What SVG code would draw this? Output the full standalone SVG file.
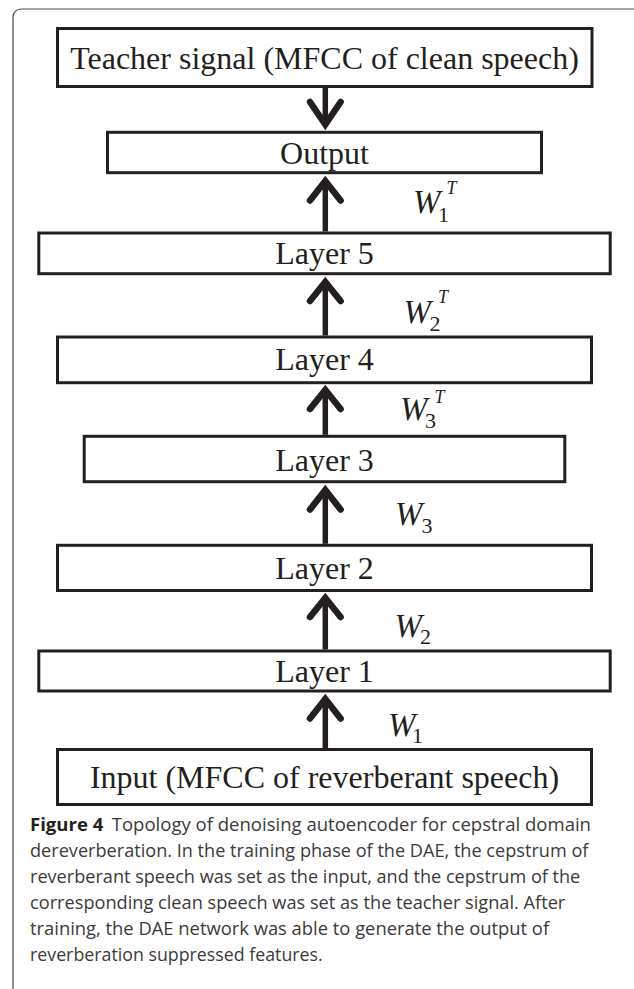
<svg xmlns="http://www.w3.org/2000/svg" width="634" height="989" viewBox="0 0 634 989">
<style>
.box{fill:#fff;stroke:#231f20;stroke-width:3}
.lbl{font-family:"Liberation Serif","Times New Roman",serif;font-size:32px;fill:#231f20;text-anchor:middle}
.w{font-family:"Liberation Serif","Times New Roman",serif;fill:#231f20;font-style:italic;font-size:33px}
.sub{font-style:normal;font-size:22px}
.sup{font-style:italic;font-size:18px}
.shaft{stroke:#231f20;stroke-width:5.5;fill:none}
.head{stroke:#231f20;stroke-width:6.5;fill:none;stroke-linecap:round;stroke-linejoin:miter;stroke-miterlimit:10}
.cap{font-family:"Open Sans","Noto Sans","Liberation Sans",sans-serif;font-size:17.5px;fill:#3a3a3a}
.capb{font-weight:bold;fill:#231f20}
</style>
<path d="M13,989 V17 A8,8 0 0 1 21,9 H634" fill="none" stroke="#4a4a4a" stroke-width="1.2"/>
<g id="teacher"><rect class="box" x="57.5" y="28.5" width="534.5" height="58"/><text class="lbl" x="324.5" y="69">Teacher signal (MFCC of clean speech)</text></g>
<g id="output"><rect class="box" x="107.5" y="132.3" width="434" height="40.4"/><text class="lbl" x="324.5" y="163.5">Output</text></g>
<g id="layer5"><rect class="box" x="38.8" y="233" width="571.4" height="40.7"/><text class="lbl" x="324.5" y="263.5">Layer 5</text></g>
<g id="layer4"><rect class="box" x="57.5" y="337" width="534" height="45.7"/><text class="lbl" x="324.5" y="370">Layer 4</text></g>
<g id="layer3"><rect class="box" x="84.2" y="436.3" width="480.6" height="45.4"/><text class="lbl" x="324.5" y="471">Layer 3</text></g>
<g id="layer2"><rect class="box" x="57.5" y="545.3" width="534" height="45.2"/><text class="lbl" x="324.5" y="579">Layer 2</text></g>
<g id="layer1"><rect class="box" x="38.8" y="651" width="571.4" height="40"/><text class="lbl" x="324.5" y="681.7">Layer 1</text></g>
<g id="input"><rect class="box" x="57.5" y="749.5" width="534" height="55"/><text class="lbl" x="324.5" y="788">Input (MFCC of reverberant speech)</text></g>
<g id="connectors">
<line class="shaft" x1="325.3" y1="88" x2="325.3" y2="122"/>
<polyline class="head" points="310,102 325.3,124.5 340.6,102"/>
<line class="shaft" x1="325.3" y1="231.5" x2="325.3" y2="183"/>
<polyline class="head" points="310,200.5 325.3,181 340.6,200.5"/>
<line class="shaft" x1="325.3" y1="335.5" x2="325.3" y2="284"/>
<polyline class="head" points="310,301 325.3,282 340.6,301"/>
<line class="shaft" x1="325.3" y1="434.8" x2="325.3" y2="392"/>
<polyline class="head" points="310,409 325.3,390 340.6,409"/>
<line class="shaft" x1="325.3" y1="543.8" x2="325.3" y2="492"/>
<polyline class="head" points="310,509.5 325.3,490 340.6,509.5"/>
<line class="shaft" x1="325.3" y1="649.5" x2="325.3" y2="600"/>
<polyline class="head" points="310,617 325.3,598 340.6,617"/>
<line class="shaft" x1="325.3" y1="748" x2="325.3" y2="701"/>
<polyline class="head" points="310,718.5 325.3,699 340.6,718.5"/>
</g>
<g id="labels">
<text class="w"><tspan x="413" y="213.3">W</tspan><tspan class="sub" x="438" y="222.3">1</tspan><tspan class="sup" x="446.5" y="194">T</tspan></text>
<text class="w"><tspan x="403.5" y="323.3">W</tspan><tspan class="sub" x="429.5" y="330.7">2</tspan><tspan class="sup" x="438" y="303.3">T</tspan></text>
<text class="w"><tspan x="400" y="420">W</tspan><tspan class="sub" x="425" y="428.3">3</tspan><tspan class="sup" x="434.5" y="403.3">T</tspan></text>
<text class="w"><tspan x="395" y="525">W</tspan><tspan class="sub" x="421.5" y="533.3">3</tspan></text>
<text class="w"><tspan x="394.5" y="636.7">W</tspan><tspan class="sub" x="420" y="644.3">2</tspan></text>
<text class="w"><tspan x="388" y="735.7">W</tspan><tspan class="sub" x="412" y="743.3">1</tspan></text>
</g>
<g id="caption">
<text class="cap" x="30" y="831" textLength="561" lengthAdjust="spacingAndGlyphs"><tspan class="capb">Figure 4</tspan><tspan dx="8">Topology of denoising autoencoder for cepstral domain</tspan></text>
<text class="cap" x="30" y="857" textLength="558.4" lengthAdjust="spacingAndGlyphs">dereverberation. In the training phase of the DAE, the cepstrum of</text>
<text class="cap" x="30" y="883" textLength="550.3" lengthAdjust="spacingAndGlyphs">reverberant speech was set as the input, and the cepstrum of the</text>
<text class="cap" x="30" y="909" textLength="535.3" lengthAdjust="spacingAndGlyphs">corresponding clean speech was set as the teacher signal. After</text>
<text class="cap" x="30" y="935" textLength="519.1" lengthAdjust="spacingAndGlyphs">training, the DAE network was able to generate the output of</text>
<text class="cap" x="30" y="961" textLength="292.7" lengthAdjust="spacingAndGlyphs">reverberation suppressed features.</text>
</g>
</svg>
